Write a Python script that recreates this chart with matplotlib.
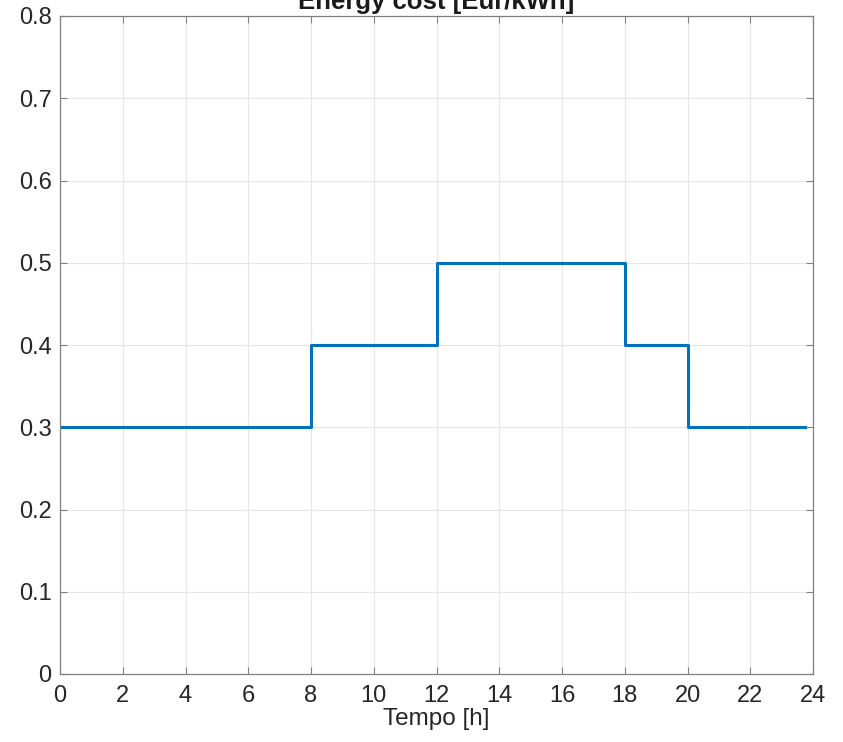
import matplotlib
matplotlib.use("Agg")
import matplotlib.pyplot as plt

# tariff steps (start hour of each band) and cost in Eur/kWh
hours = [0, 8, 12, 18, 20, 23.75]
cost = [0.3, 0.4, 0.5, 0.4, 0.3, 0.3]
xticks = list(range(0, 25, 2))
yticks = [0, 0.1, 0.2, 0.3, 0.4, 0.5, 0.6, 0.7, 0.8]

plt.rcParams["font.family"] = ["Liberation Sans", "DejaVu Sans"]

fig = plt.figure(figsize=(8.43, 7.42), dpi=100)
ax = fig.add_axes([60 / 843, 1 - 674 / 742, 753 / 843, 658 / 742])

ax.step(hours, cost, where="post", color="#0072BD", lw=2.2)

ax.set_xlim(0, 24)
ax.set_ylim(0, 0.8)
ax.set_xticks(xticks)
ax.set_yticks(yticks)
ax.set_yticklabels(["0", "0.1", "0.2", "0.3", "0.4", "0.5", "0.6", "0.7", "0.8"])
ax.grid(True, color="#e6e6e6", lw=0.8)
ax.set_axisbelow(True)
for s in ax.spines.values():
    s.set_color("#808080")
    s.set_linewidth(0.9)
ax.tick_params(direction="in", length=5, width=0.8, color="#808080",
               labelsize=17, labelcolor="#262626", top=True, right=True)
ax.tick_params(axis="x", labeltop=False, pad=8)
ax.tick_params(axis="y", pad=6)
ax.set_xlabel("Tempo [h]", fontsize=17.5, color="#262626", labelpad=1)
ax.set_title("Energy cost [Eur/kWh]", fontsize=18.5, fontweight="bold",
             color="#1a1a1a", pad=5)

fig.savefig("out.png", dpi=100)
